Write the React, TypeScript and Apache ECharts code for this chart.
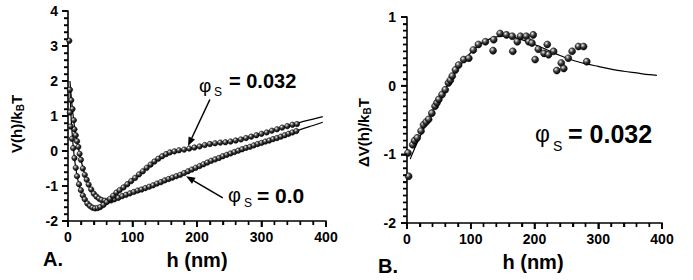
import React, { useEffect, useRef } from 'react';
import * as echarts from 'echarts';

const FONT = '"Liberation Sans", Arial, Helvetica, sans-serif';

// Panel A: measured potentials V(h)/kBT
const phi032Points: [number, number][] = [
  [2, 3.15], [3, 1.1], [4, 0.7], [6, 0.35], [8, 0.08], [10, -0.2], [12, -0.48], [14, -0.72],
  [17, -0.95], [20, -1.12], [23, -1.27], [26, -1.38], [30, -1.5], [34, -1.57], [38, -1.62],
  [42, -1.64], [46, -1.63], [50, -1.6], [55, -1.54], [60, -1.46], [65, -1.37], [70, -1.28],
  [75, -1.19], [80, -1.12], [86, -1.04], [92, -0.95], [98, -0.86], [104, -0.77], [110, -0.67],
  [116, -0.58], [122, -0.48], [128, -0.39], [134, -0.3], [140, -0.22], [146, -0.15], [152, -0.09],
  [158, -0.04], [165, -0.01], [172, 0.02], [180, 0.04], [188, 0.07], [196, 0.1], [204, 0.13],
  [212, 0.17], [220, 0.2], [228, 0.22], [236, 0.24], [244, 0.25], [252, 0.27], [260, 0.3],
  [268, 0.33], [276, 0.37], [284, 0.41], [292, 0.45], [300, 0.49], [308, 0.53], [316, 0.58],
  [324, 0.62], [332, 0.67], [340, 0.71], [348, 0.75], [355, 0.77],
];
const phi0Points: [number, number][] = [
  [3, 1.75], [5, 1.45], [7, 1.2], [9, 0.88], [10, 0.62], [12, 0.45], [14, 0.28], [16, 0.12],
  [18, -0.08], [20, -0.25], [23, -0.5], [26, -0.68], [29, -0.82], [32, -0.96], [36, -1.1],
  [40, -1.22], [44, -1.3], [48, -1.36], [52, -1.4], [57, -1.42], [62, -1.42], [67, -1.41],
  [72, -1.38], [78, -1.34], [84, -1.29], [90, -1.25], [96, -1.21], [102, -1.17], [108, -1.13],
  [114, -1.1], [120, -1.06], [126, -1.02], [132, -0.98], [138, -0.93], [144, -0.89], [150, -0.84],
  [156, -0.8], [162, -0.76], [168, -0.72], [174, -0.68], [180, -0.63], [186, -0.58], [192, -0.53],
  [198, -0.48], [204, -0.43], [210, -0.38], [216, -0.33], [222, -0.28], [228, -0.24], [234, -0.2],
  [240, -0.15], [246, -0.11], [252, -0.07], [258, -0.03], [264, 0.01], [270, 0.05], [276, 0.09],
  [282, 0.12], [288, 0.16], [294, 0.2], [300, 0.23], [306, 0.27], [312, 0.3], [318, 0.34],
  [324, 0.37], [330, 0.41], [336, 0.45], [342, 0.49], [348, 0.53], [354, 0.57],
];
// Panel A: model curves
const phi032Fit: [number, number][] = [
  [3, 1.8], [5, 0.9], [8, 0.15], [11, -0.35], [15, -0.8], [20, -1.15], [25, -1.36], [30, -1.5],
  [38, -1.62], [45, -1.63], [52, -1.58], [60, -1.46], [70, -1.28], [85, -1.06], [100, -0.83],
  [115, -0.6], [130, -0.36], [145, -0.16], [155, -0.06], [165, -0.01], [180, 0.04], [200, 0.11],
  [220, 0.19], [240, 0.25], [260, 0.31], [280, 0.4], [300, 0.5], [320, 0.61], [340, 0.72],
  [360, 0.82], [380, 0.91], [395, 0.98],
];
const phi0Fit: [number, number][] = [
  [3, 2.0], [6, 1.35], [9, 0.85], [12, 0.45], [16, 0.1], [20, -0.25], [25, -0.6], [30, -0.87],
  [36, -1.1], [44, -1.3], [52, -1.4], [60, -1.43], [70, -1.39], [85, -1.3], [100, -1.19],
  [120, -1.06], [140, -0.92], [160, -0.77], [180, -0.63], [200, -0.47], [220, -0.3], [240, -0.15],
  [260, -0.02], [280, 0.11], [300, 0.23], [320, 0.36], [340, 0.48], [360, 0.61], [380, 0.73],
  [395, 0.82],
];
// Panel A: annotation arrows [tailH, tailV, headH, headV] in data units
const arrowsA: [number, number, number, number][] = [
  [220, 1.47, 186, 0.14],
  [240, -1.34, 183, -0.72],
];

// Panel B: difference potential
const deltaPoints: [number, number][] = [
  [2.6, -1.32], [1.5, -0.98], [9, -0.86], [12, -0.8], [16, -0.76], [22, -0.66], [26, -0.57],
  [30, -0.53], [34, -0.49], [39, -0.4], [44, -0.3], [47, -0.25], [50, -0.2], [55, -0.13],
  [60, -0.06], [65, 0.04], [68, 0.08], [71, 0.14], [76, 0.23], [81, 0.3], [89, 0.38], [97, 0.4],
  [104, 0.52], [112, 0.6], [123, 0.64], [135, 0.51], [136, 0.67], [146, 0.76], [156, 0.74],
  [165, 0.72], [166, 0.5], [173, 0.64], [178, 0.72], [187, 0.72], [191, 0.64], [196, 0.62],
  [198, 0.74], [201, 0.38], [206, 0.53], [215, 0.47], [220, 0.6], [222, 0.45], [230, 0.5],
  [235, 0.22], [242, 0.33], [246, 0.25], [253, 0.4], [259, 0.5], [269, 0.57], [277, 0.57],
  [282, 0.35],
];
const deltaFit: [number, number][] = [
  [5, -1.07], [15, -0.85], [25, -0.65], [35, -0.46], [50, -0.2], [65, 0.03], [80, 0.25],
  [95, 0.43], [110, 0.57], [125, 0.66], [140, 0.71], [150, 0.72], [165, 0.71], [180, 0.67],
  [200, 0.6], [220, 0.52], [240, 0.44], [260, 0.37], [280, 0.32], [300, 0.28], [320, 0.24],
  [340, 0.21], [360, 0.185], [380, 0.16], [392, 0.15],
];

// Axes
const hMin = 0, hMax = 400, hStep = 100, hMinorSplit = 5;
const vAMin = -2, vAMax = 4, vAMinorSplit = 5;
const vBMin = -2, vBMax = 1, vBMinorSplit = 10;

function tickValues(min: number, max: number, step: number, split: number) {
  const major: number[] = [];
  const minor: number[] = [];
  const n = Math.round((max - min) / step);
  for (let i = 0; i <= n; i++) {
    const v = min + i * step;
    major.push(v);
    if (i < n) for (let j = 1; j < split; j++) minor.push(v + (j * step) / split);
  }
  return { major, minor };
}

const ball = {
  type: 'radial', x: 0.36, y: 0.32, r: 0.7,
  colorStops: [
    { offset: 0, color: '#ffffff' },
    { offset: 0.18, color: '#a8a8a8' },
    { offset: 0.5, color: '#3a3a3a' },
    { offset: 1, color: '#000000' },
  ],
};

let measureCtx: CanvasRenderingContext2D | null = null;
function measure(t: string, size: number, weight: string) {
  if (!measureCtx) measureCtx = document.createElement('canvas').getContext('2d');
  measureCtx!.font = `${weight} ${size}px ${FONT}`;
  return measureCtx!.measureText(t).width;
}

type Piece = { t: string; size: number; weight?: string; dy?: number; gap?: number };
function run(x: number, y: number, pieces: Piece[], rotation = 0) {
  let cx = 0;
  const children = pieces.map((p) => {
    const weight = p.weight || 'bold';
    const el = {
      type: 'text', x: cx, y: p.dy || 0,
      style: {
        text: p.t, fill: '#000', fontSize: p.size, fontWeight: weight, fontFamily: FONT,
        align: 'left', verticalAlign: 'middle', textAlign: 'left', textVerticalAlign: 'middle',
      },
    };
    cx += measure(p.t, p.size, weight) + (p.gap || 0);
    return el;
  });
  return { type: 'group', x, y, rotation, children };
}
function txt(x: number, y: number, t: string, size: number, weight = 'bold', align = 'left') {
  return {
    type: 'text', x, y,
    style: {
      text: t, fill: '#000', fontSize: size, fontWeight: weight, fontFamily: FONT,
      align, verticalAlign: 'middle', textAlign: align, textVerticalAlign: 'middle',
    },
  };
}

function xAxis(gridIndex: number) {
  return {
    type: 'value', gridIndex, min: hMin, max: hMax, interval: hStep,
    axisLine: { show: true, onZero: false, lineStyle: { color: '#000', width: 1.6 } },
    axisTick: { show: true, length: 6, lineStyle: { color: '#000', width: 1.6 } },
    minorTick: { show: true, splitNumber: hMinorSplit, length: 4, lineStyle: { color: '#000', width: 1.4 } },
    axisLabel: { color: '#000', fontSize: 14, fontWeight: 'bold', fontFamily: FONT, margin: 9 },
    splitLine: { show: false },
  };
}
function yAxis(gridIndex: number, min: number, max: number, split: number, margin: number) {
  return {
    type: 'value', gridIndex, min, max, interval: 1,
    axisLine: { show: true, onZero: false, lineStyle: { color: '#000', width: 1.6 } },
    axisTick: { show: true, length: 6, lineStyle: { color: '#000', width: 1.6 } },
    minorTick: { show: true, splitNumber: split, length: 4, lineStyle: { color: '#000', width: 1.4 } },
    axisLabel: { color: '#000', fontSize: 14, fontWeight: 'bold', fontFamily: FONT, margin },
    splitLine: { show: false },
  };
}

// Tick marks also drawn through the axes' own scales
function ticksSeries(idx: number, dir: 'x' | 'y', values: number[], otherMin: number, len: number, width: number) {
  return {
    type: 'custom', xAxisIndex: idx, yAxisIndex: idx, silent: true, clip: false, z: 6,
    data: values.map((v) => (dir === 'x' ? [v, otherMin] : [otherMin, v])),
    renderItem: (_params: any, api: any) => {
      const p = api.coord([api.value(0), api.value(1)]);
      const shape = dir === 'x'
        ? { x1: p[0], y1: p[1], x2: p[0], y2: p[1] + len }
        : { x1: p[0], y1: p[1], x2: p[0] - len, y2: p[1] };
      return { type: 'line', shape, style: { stroke: '#000', lineWidth: width } };
    },
  };
}
function axisTicks(idx: number, vMin: number, vMax: number, vSplit: number) {
  const hx = tickValues(hMin, hMax, hStep, hMinorSplit);
  const vy = tickValues(vMin, vMax, 1, vSplit);
  return [
    ticksSeries(idx, 'x', hx.major, vMin, 6, 1.6),
    ticksSeries(idx, 'x', hx.minor, vMin, 4, 1.4),
    ticksSeries(idx, 'y', vy.major, hMin, 6, 1.6),
    ticksSeries(idx, 'y', vy.minor, hMin, 4, 1.4),
  ];
}

function arrowSeries(idx: number, data: [number, number, number, number][]) {
  return {
    type: 'custom', xAxisIndex: idx, yAxisIndex: idx, silent: true, clip: false, z: 5,
    data,
    renderItem: (_params: any, api: any) => {
      const a = api.coord([api.value(0), api.value(1)]);
      const b = api.coord([api.value(2), api.value(3)]);
      const dx = b[0] - a[0], dy = b[1] - a[1];
      const L = Math.sqrt(dx * dx + dy * dy) || 1;
      const ux = dx / L, uy = dy / L;
      const head = 9, half = 3.5;
      const bx = b[0] - ux * head, by = b[1] - uy * head;
      return {
        type: 'group',
        children: [
          { type: 'line', shape: { x1: a[0], y1: a[1], x2: bx, y2: by }, style: { stroke: '#000', lineWidth: 1.5 } },
          {
            type: 'polygon',
            shape: { points: [[b[0], b[1]], [bx - uy * half, by + ux * half], [bx + uy * half, by - ux * half]] },
            style: { fill: '#000' },
          },
        ],
      };
    },
  };
}

function fitLine(data: [number, number][], idx: number) {
  return {
    type: 'line', xAxisIndex: idx, yAxisIndex: idx, data, smooth: 0.35,
    showSymbol: false, symbol: 'none', lineStyle: { color: '#000', width: 1.2 }, z: 2, silent: true,
  };
}
function dots(data: [number, number][], idx: number, size: number) {
  return {
    type: 'scatter', xAxisIndex: idx, yAxisIndex: idx, data, symbolSize: size,
    itemStyle: { color: ball, borderColor: '#000', borderWidth: 0.5, opacity: 1 }, z: 3, silent: true,
  };
}

export default function App() {
  const ref = useRef<HTMLDivElement>(null);
  useEffect(() => {
    if (!ref.current) return;
    const chart = echarts.init(ref.current, undefined, { renderer: 'svg' });
    chart.setOption({
      animation: false,
      grid: [
        { left: 68, top: 11, width: 258, height: 210 },
        { left: 407, top: 17, width: 255, height: 206 },
      ],
      xAxis: [xAxis(0), xAxis(1)],
      yAxis: [yAxis(0, vAMin, vAMax, vAMinorSplit, 10), yAxis(1, vBMin, vBMax, vBMinorSplit, 11)],
      series: [
        fitLine(phi032Fit, 0),
        fitLine(phi0Fit, 0),
        dots(phi0Points, 0, 5.5),
        dots(phi032Points, 0, 5.5),
        arrowSeries(0, arrowsA),
        fitLine(deltaFit, 1),
        dots(deltaPoints, 1, 7),
        ...axisTicks(0, vAMin, vAMax, vAMinorSplit),
        ...axisTicks(1, vBMin, vBMax, vBMinorSplit),
      ],
      graphic: [
        // Panel A labels
        txt(199, 85, 'φ', 19, 'normal'),
        txt(214, 92, 'S', 12, 'normal'),
        txt(229, 81, '= 0.032', 20),
        txt(228, 195, 'φ', 20, 'normal'),
        txt(244, 203, 'S', 12, 'normal'),
        txt(257, 195, '= 0.0', 21),
        // Panel B label
        txt(535, 134, 'φ', 23, 'normal'),
        txt(553, 146, 'S', 14, 'normal'),
        txt(568, 134, '= 0.032', 25),
        // Axis titles
        txt(197, 260, 'h (nm)', 20, 'bold', 'center'),
        txt(533, 262, 'h (nm)', 20, 'bold', 'center'),
        txt(43, 259, 'A.', 20),
        txt(378, 266, 'B.', 20),
        run(16.5, 153, [
          { t: 'V(h)/k', size: 15 },
          { t: 'B', size: 10, dy: 4 },
          { t: 'T', size: 15 },
        ], Math.PI / 2),
        run(363, 167, [
          { t: 'ΔV(h)/k', size: 15 },
          { t: 'B', size: 10, dy: 4 },
          { t: 'T', size: 15 },
        ], Math.PI / 2),
      ],
    });
    return () => chart.dispose();
  }, []);
  return (
    <div
      ref={ref}
      style={{ position: 'fixed', left: 0, top: 0, width: 693, height: 280, background: '#fff' }}
    />
  );
}
